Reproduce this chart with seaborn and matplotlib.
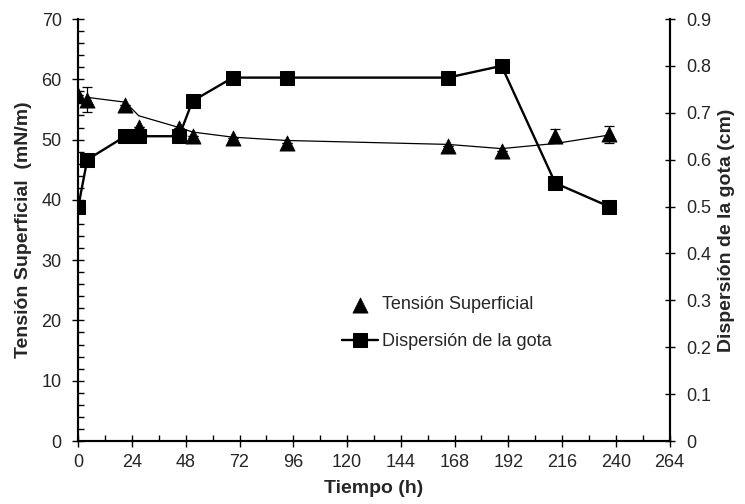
import numpy as np
import pandas as pd
import matplotlib
matplotlib.use("Agg")
import matplotlib.pyplot as plt
import seaborn as sns
from matplotlib.ticker import MultipleLocator

# ---- data ----
tiempo = [0, 4, 21, 27, 45, 51, 69, 93, 165, 189, 213, 237]
tension = [57.4, 56.6, 55.8, 52.1, 51.9, 50.6, 50.2, 49.5, 48.9, 48.1, 50.6, 50.9]
tension_err = [0, 2.1, 0, 0, 0, 0, 0, 0, 0, 0, 1.1, 1.4]
dispersion = [0.50, 0.60, 0.65, 0.65, 0.65, 0.725, 0.775, 0.775, 0.775, 0.80, 0.55, 0.50]
x_ticks = list(range(0, 265, 24))
right_ticks = [0, 0.1, 0.2, 0.3, 0.4, 0.5, 0.6, 0.7, 0.8, 0.9]
right_labels = ["0", "0.1", "0.2", "0.3", "0.4", "0.5", "0.6", "0.7", "0.8", "0.9"]

sns.set_theme(style="white")
plt.rcParams["font.family"] = ["Liberation Sans", "DejaVu Sans"]

df = pd.DataFrame({"Tiempo": tiempo, "Tension": tension, "Err": tension_err,
                   "Dispersion": dispersion})
# Excel-style 2-period moving average trendline
df["Trend"] = df["Tension"].rolling(2).mean()

fig, ax = plt.subplots(figsize=(7.45, 5.04), dpi=100)
fig.subplots_adjust(left=0.1051, right=0.8987, top=0.9623, bottom=0.125)
ax2 = ax.twinx()

# Tension superficial: trend line + triangles + error bars
sns.lineplot(data=df.dropna(subset=["Trend"]), x="Tiempo", y="Trend", ax=ax,
             color="black", linewidth=0.9, legend=False, label="_nolegend_")
ax.errorbar(df["Tiempo"], df["Tension"], yerr=df["Err"], fmt="none",
            ecolor="black", elinewidth=0.9, capsize=3.5, capthick=0.9)
sns.scatterplot(data=df, x="Tiempo", y="Tension", ax=ax, marker="^", s=120,
                color="black", edgecolor="black", linewidth=0.5,
                label="Tensión Superficial", legend=False, zorder=4)

# Dispersion de la gota
sns.lineplot(data=df, x="Tiempo", y="Dispersion", ax=ax2, color="black",
             linewidth=1.7, marker="s", markersize=10.5, markeredgecolor="black",
             label="Dispersión de la gota", legend=False)

# axes limits & ticks
ax.set_xlim(0, 264)
ax.set_ylim(0, 70)
ax2.set_ylim(0, 0.9)
ax.set_xticks(x_ticks)
ax.xaxis.set_minor_locator(MultipleLocator(12))
ax.yaxis.set_major_locator(MultipleLocator(10))
ax.yaxis.set_minor_locator(MultipleLocator(2))
ax2.set_yticks(right_ticks)
ax2.set_yticklabels(right_labels)

ax.tick_params(axis="both", which="major", direction="inout", length=8,
               width=1, color="black", labelsize=13,
               bottom=True, left=True, top=False, right=False)
ax.tick_params(axis="x", which="major", pad=5.5)
ax.tick_params(axis="y", which="major", pad=8)
ax.tick_params(axis="both", which="minor", direction="in", length=4,
               width=1, color="black", bottom=True, left=True)
ax2.tick_params(axis="y", which="major", direction="inout", length=7,
                width=1, color="black", labelsize=13, pad=8.5, right=True)

for a in (ax, ax2):
    for side in ("left", "bottom", "right"):
        a.spines[side].set_color("black")
        a.spines[side].set_linewidth(1.5)
    a.spines["top"].set_visible(False)

ax.set_xlabel("Tiempo (h)", fontsize=14, fontweight="bold", labelpad=6)
ax.set_ylabel("Tensión Superficial  (mN/m)", fontsize=14, fontweight="bold",
              labelpad=7)
ax2.set_ylabel("Dispersión de la gota (cm)", fontsize=14, fontweight="bold",
               labelpad=5)

h1, l1 = ax.get_legend_handles_labels()
h2, l2 = ax2.get_legend_handles_labels()
leg = ax2.legend(h1 + h2, l1 + l2, loc="center left",
                 bbox_to_anchor=(0.4587, 0.3583), bbox_transform=fig.transFigure,
                 frameon=False, fontsize=13, handlelength=2.0, borderpad=0,
                 borderaxespad=0, handletextpad=0.25, labelspacing=1.1)

fig.savefig("out.png", dpi=100)
